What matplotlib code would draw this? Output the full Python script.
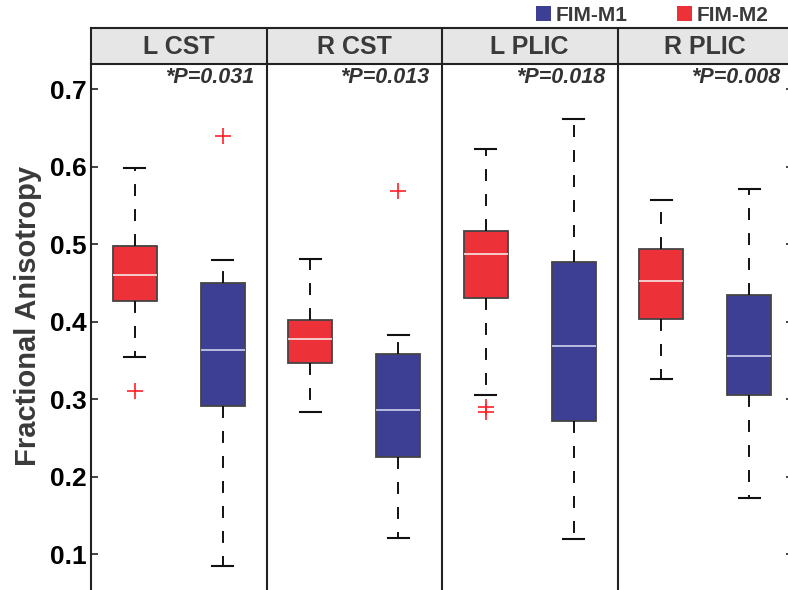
import matplotlib
matplotlib.use("Agg")
import matplotlib.pyplot as plt
from matplotlib.patches import Patch

plt.rcParams['font.family'] = ['Liberation Sans', 'DejaVu Sans']
plt.rcParams['lines.scale_dashes'] = False

# regions and p values
regions = ['L CST', 'R CST', 'L PLIC', 'R PLIC']
p_labels = ['*P=0.031', '*P=0.013', '*P=0.018', '*P=0.008']

# FIM-M2 (red) box stats
m2_whislo = [0.355, 0.284, 0.305, 0.326]
m2_q1 = [0.427, 0.347, 0.431, 0.403]
m2_med = [0.460, 0.378, 0.487, 0.452]
m2_q3 = [0.498, 0.402, 0.517, 0.494]
m2_whishi = [0.598, 0.481, 0.623, 0.557]
m2_fliers = [[0.310], [], [0.290, 0.283], []]

# FIM-M1 (blue) box stats
m1_whislo = [0.085, 0.121, 0.119, 0.173]
m1_q1 = [0.291, 0.225, 0.272, 0.305]
m1_med = [0.364, 0.286, 0.369, 0.356]
m1_q3 = [0.450, 0.358, 0.477, 0.435]
m1_whishi = [0.479, 0.383, 0.661, 0.571]
m1_fliers = [[0.640], [0.569], [], []]

yticks = [0.1, 0.2, 0.3, 0.4, 0.5, 0.6, 0.7]

RED = '#ec3238'
BLUE = '#3c3f94'
W, H = 788, 590


def make_stats(lo, q1, med, q3, hi, fl):
    out = []
    for i in range(len(lo)):
        out.append(dict(whislo=lo[i], q1=q1[i], med=med[i], q3=q3[i],
                        whishi=hi[i], fliers=fl[i]))
    return out


fig = plt.figure(figsize=(W / 100, H / 100), dpi=100)

left = 91 / W
right = 793 / W
top_plot = (H - 63.5) / H
top_head = (H - 27.5) / H

ax = fig.add_axes([left, 0, right - left, top_plot])
hax = fig.add_axes([left, top_plot, right - left, top_head - top_plot])

def draw(stats, offset, color, medcolor):
    pos = [i + offset for i in range(len(stats))]
    ax.bxp(stats, positions=pos, widths=0.25, capwidths=0.12,
           patch_artist=True, manage_ticks=False,
           boxprops=dict(facecolor=color, edgecolor='#444444', linewidth=1.3),
           medianprops=dict(color=medcolor, linewidth=1.3),
           whiskerprops=dict(color='#111111', linewidth=1.4, linestyle=(0, (8.6, 9.4))),
           capprops=dict(color='#111111', linewidth=1.5),
           flierprops=dict(marker='+', markeredgecolor='#ff1f26', markersize=11,
                           markeredgewidth=1.2, linestyle='none'))

draw(make_stats(m2_whislo, m2_q1, m2_med, m2_q3, m2_whishi, m2_fliers), 0.25, RED, '#f6d6d6')
draw(make_stats(m1_whislo, m1_q1, m1_med, m1_q3, m1_whishi, m1_fliers), 0.75, BLUE, '#c4c4e6')

ax.set_xlim(0, 4)
ax.set_ylim(0.0538, 0.733)
ax.set_yticks(yticks)
ax.set_yticklabels(['%.1f' % t for t in yticks])
ax.set_xticks([])
ax.tick_params(axis='y', direction='in', length=5, width=1.2, right=True,
               labelsize=19, pad=3, color='#222222')
for lab in ax.get_yticklabels():
    lab.set_fontweight('bold')
ax.spines['bottom'].set_visible(False)
ax.spines['top'].set_visible(False)
for s in ['left', 'right']:
    ax.spines[s].set_linewidth(1.5)
    ax.spines[s].set_color('#222222')
for b in [1, 2, 3]:
    ax.axvline(b, color='#222222', linewidth=1.5)

for i, p in enumerate(p_labels):
    ax.text(i + 1 - 0.07, 0.728, p, ha='right', va='top', fontsize=15.5,
            fontweight='bold', fontstyle='italic', color='#333333')

ax.set_ylabel('Fractional Anisotropy', fontsize=21, fontweight='bold', color='#3a3a3a')
ax.yaxis.set_label_coords(-0.070, 0.52)

# header band
hax.set_facecolor('#e6e6e6')
hax.set_xlim(0, 4)
hax.set_ylim(0, 1)
hax.set_xticks([])
hax.set_yticks([])
for s in hax.spines.values():
    s.set_linewidth(1.5)
    s.set_color('#222222')
for b in [1, 2, 3]:
    hax.axvline(b, color='#222222', linewidth=1.5)
for i, r in enumerate(regions):
    hax.text(i + 0.5, 0.45, r, ha='center', va='center', fontsize=18,
             fontweight='bold', color='#3a3a3a')

handles = [Patch(facecolor=BLUE, edgecolor='none', label='FIM-M1'),
           Patch(facecolor=RED, edgecolor='none', label='FIM-M2')]
leg = fig.legend(handles=handles, loc='upper left', bbox_to_anchor=(536 / W, 1 - 6 / H),
                 ncol=2, frameon=False, fontsize=15, handlelength=0.72, handleheight=0.72,
                 handletextpad=0.2, columnspacing=2.4, borderpad=0, borderaxespad=0)
for t in leg.get_texts():
    t.set_fontweight('bold')
    t.set_color('#3a3a3a')

fig.savefig('out.png', dpi=100)
